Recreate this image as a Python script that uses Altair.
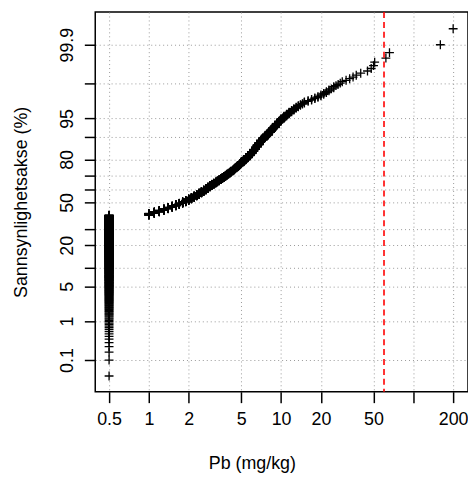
import altair as alt
import pandas as pd
from statistics import NormalDist

# distinct Pb values (mg/kg) and how many samples have each value
pb_values = [0.5,
 1.0,1.1,1.2,1.3,1.4,1.5,1.6,1.7,1.8,1.9,
 2.0,2.1,2.2,2.3,2.4,2.5,2.6,2.7,2.8,2.9,
 3.0,3.1,3.2,3.3,3.4,3.5,3.6,3.7,3.8,3.9,
 4.0,4.1,4.2,4.3,4.4,4.5,4.6,4.7,4.8,4.9,
 5.0,5.2,5.4,5.6,5.8,6.0,6.2,6.4,6.6,6.8,
 7.0,7.3,7.6,8.0,8.3,8.6,9.0,9.3,9.6,
 10,10.5,11,11.5,12,12.5,13,13.5,14,14.5,
 15,16,17,18,19,20,21,22,23,24,25,26,27,28,29,
 31,33,35,37,40,45,48,50,51,62,66,160,200]
pb_counts = [600,
 19,18,18,18,17,16,16,16,16,16,
 18,18,17,17,17,17,17,17,17,17,
 13,13,12,12,12,12,12,12,11,11,
 10,10,10,10,10,10,10,9,9,9,
 17,17,16,16,16,16,15,15,14,14,
 14,13,13,12,11,10,9,8,7,
 8,7,6,5,4,4,3,3,2,2,
 3,2,2,2,2,2,2,2,2,1,2,1,1,1,1,
 1,1,1,1,1,1,1,1,1,1,1,1,1]

ylab_pct = [0.1, 1, 5, 10, 20, 30, 50, 60, 70, 80, 90, 95, 99, 99.9]
ylab_show = ["0.1", "1", "5", "", "20", "", "50", "", "", "80", "", "95", "", "99.9"]
xticks = [0.5, 1, 2, 5, 10, 20, 50, 100, 200]
limit_value = [60]

vals = []
for v, c in zip(pb_values, pb_counts):
    vals += [v] * c
n = len(vals)
nd = NormalDist()
df = pd.DataFrame({"pb": vals, "z": [nd.inv_cdf((i + 0.5) / n) for i in range(n)]})

yt = [nd.inv_cdf(p / 100) for p in ylab_pct]
expr = "{" + ",".join(f'"{int(round(z*1000))}":"{s}"' for z, s in zip(yt, ylab_show)) + "}"

font = "Liberation Sans"
common = dict(domain=False, tickColor="black", tickSize=11, tickWidth=1.5, labelFontSize=18,
              labelColor="black", titleFontSize=18, titleFont=font, labelFont=font,
              titleFontWeight="normal", titleColor="black", gridDash=[1, 3], gridColor="#999")
xax = alt.Axis(values=xticks, title="Pb (mg/kg)", labelPadding=8, titlePadding=26, titleX=158,
               labelExpr="datum.value==100?'':datum.label", labelFlush=False, **common)
yax = alt.Axis(values=yt, title="Sannsynlighetsakse (%)", labelPadding=8, titlePadding=28,
               labelAngle=270, labelAlign="center", labelBaseline="bottom",
               labelExpr=f"{expr}[''+round(datum.value*1000)]", **common)

pts = alt.Chart(df).mark_point(shape="M-1,0L1,0M0,-1L0,1", size=80, filled=False, color="black",
                               strokeWidth=1.3, opacity=1).encode(
    x=alt.X("pb:Q", scale=alt.Scale(type="log", domain=[0.393, 259], nice=False), axis=xax),
    y=alt.Y("z:Q", scale=alt.Scale(domain=[-3.71, 3.73], nice=False, zero=False), axis=yax),
)
rule = alt.Chart(pd.DataFrame({"x": limit_value})).mark_rule(color="red", strokeDash=[6, 4], strokeWidth=1.6).encode(x="x:Q")

chart = (pts + rule).properties(
    width=376, height=383, autosize=alt.AutoSizeParams(type="none"),
    padding={"left": 88, "top": 2, "right": 0, "bottom": 90}
).configure_view(stroke="black", strokeWidth=1.5)

chart.save("out.html", embed_options={"renderer": "svg", "actions": False})
